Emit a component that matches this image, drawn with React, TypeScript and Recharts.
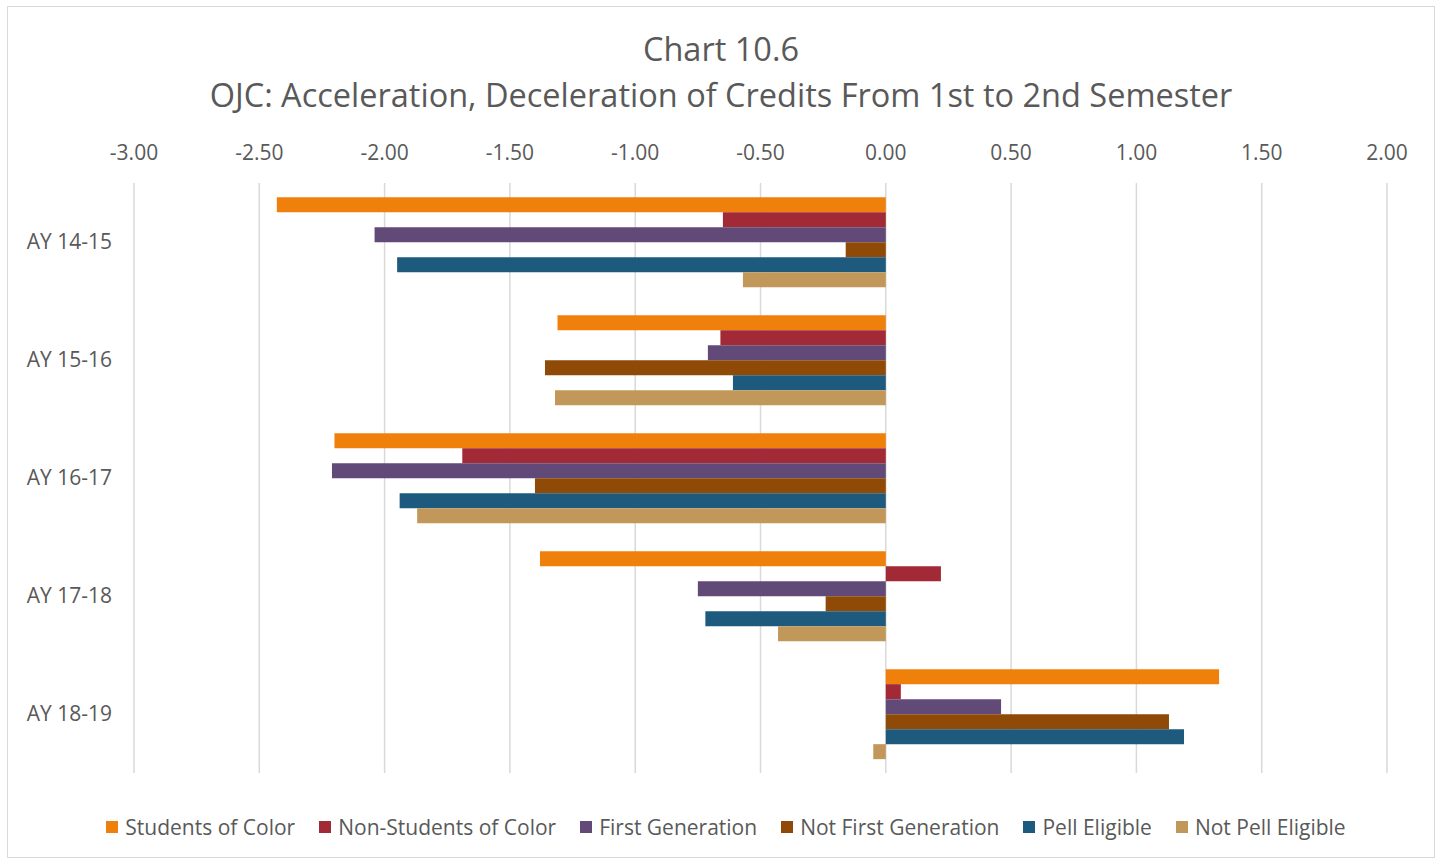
import React from "react";
import {
  BarChart,
  Bar,
  XAxis,
  YAxis,
  CartesianGrid,
  Legend,
} from "recharts";

const years = ["AY 14-15", "AY 15-16", "AY 16-17", "AY 17-18", "AY 18-19"];
const studentsOfColor = [-2.43, -1.31, -2.2, -1.38, 1.33];
const nonStudentsOfColor = [-0.65, -0.66, -1.69, 0.22, 0.06];
const firstGeneration = [-2.04, -0.71, -2.21, -0.75, 0.46];
const notFirstGeneration = [-0.16, -1.36, -1.4, -0.24, 1.13];
const pellEligible = [-1.95, -0.61, -1.94, -0.72, 1.19];
const notPellEligible = [-0.57, -1.32, -1.87, -0.43, -0.05];
const xTicks = [-3, -2.5, -2, -1.5, -1, -0.5, 0, 0.5, 1, 1.5, 2];

const series = [
  { key: "soc", name: "Students of Color", color: "#F0800C", values: studentsOfColor },
  { key: "nsoc", name: "Non-Students of Color", color: "#A22936", values: nonStudentsOfColor },
  { key: "fg", name: "First Generation", color: "#614A78", values: firstGeneration },
  { key: "nfg", name: "Not First Generation", color: "#8E4A06", values: notFirstGeneration },
  { key: "pell", name: "Pell Eligible", color: "#1E5A7D", values: pellEligible },
  { key: "npell", name: "Not Pell Eligible", color: "#C1985A", values: notPellEligible },
];

const rows = years.map((y, i) => {
  const row: Record<string, string | number> = { year: y };
  series.forEach((s) => {
    row[s.key] = s.values[i];
  });
  return row;
});

const FONT = "'Open Sans', Lato, sans-serif";
const TEXT = "#595959";

const LegendRow = () => (
  <div
    style={{
      display: "flex",
      justifyContent: "center",
      gap: 24,
      fontFamily: FONT,
      fontSize: 21,
      color: TEXT,
      whiteSpace: "nowrap",
    }}
  >
    {series.map((s) => (
      <span key={s.key} style={{ display: "inline-flex", alignItems: "center" }}>
        <span
          style={{
            width: 12,
            height: 12,
            background: s.color,
            display: "inline-block",
            marginRight: 7,
          }}
        />
        {s.name}
      </span>
    ))}
  </div>
);

export default function App() {
  return (
    <div
      style={{
        position: "absolute",
        left: 7,
        top: 6,
        width: 1428,
        height: 852,
        border: "1px solid #D9D9D9",
        boxSizing: "border-box",
        background: "#fff",
      }}
    >
      <div
        style={{
          position: "absolute",
          top: 19,
          left: 0,
          width: "100%",
          textAlign: "center",
          fontFamily: FONT,
          fontSize: 32.5,
          lineHeight: "46px",
          color: TEXT,
        }}
      >
        <div>Chart 10.6</div>
        <div>OJC: Acceleration, Deceleration of Credits From 1st to 2nd Semester</div>
      </div>
      <BarChart
        width={1426}
        height={850}
        data={rows}
        layout="vertical"
        margin={{ top: 120, right: 47, bottom: 56, left: 0 }}
        barCategoryGap="12%"
        barGap={0}
      >
        <CartesianGrid horizontal={false} stroke="#D9D9D9" strokeWidth={1.5} />
        <XAxis
          type="number"
          orientation="top"
          domain={[-3, 2]}
          ticks={xTicks}
          height={56}
          axisLine={false}
          tickLine={false}
          tickMargin={17}
          tickFormatter={(v) => Number(v).toFixed(2)}
          tick={{ fill: TEXT, fontSize: 21, fontFamily: FONT }}
          interval={0}
        />
        <YAxis
          type="category"
          dataKey="year"
          width={126}
          axisLine={false}
          tickLine={false}
          tickMargin={16}
          tick={{ fill: TEXT, fontSize: 21, fontFamily: FONT }}
        />
        <Legend
          verticalAlign="bottom"
          content={() => <LegendRow />}
          wrapperStyle={{ left: 0, width: 1436, bottom: 16 }}
        />
        {series.map((s) => (
          <Bar
            key={s.key}
            dataKey={s.key}
            name={s.name}
            fill={s.color}
            isAnimationActive={false}
          />
        ))}
      </BarChart>
    </div>
  );
}
